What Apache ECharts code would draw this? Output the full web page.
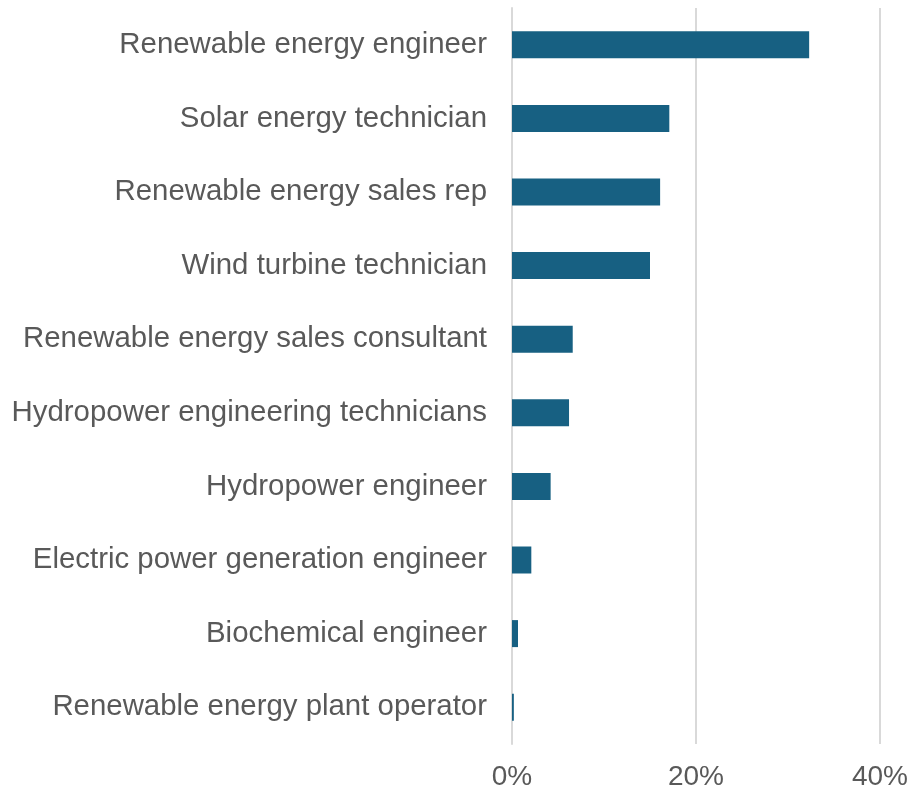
<!DOCTYPE html>
<html>
<head>
<meta charset="utf-8">
<script src="https://cdn.jsdelivr.net/npm/echarts@6/dist/echarts.min.js"></script>
<style>html,body{margin:0;padding:0;background:#fff}#c{width:912px;height:791px}</style>
</head>
<body>
<div id="c"></div>
<script>
const categories = [
  "Renewable energy engineer",
  "Solar energy technician",
  "Renewable energy sales rep",
  "Wind turbine technician",
  "Renewable energy sales consultant",
  "Hydropower engineering technicians",
  "Hydropower engineer",
  "Electric power generation engineer",
  "Biochemical engineer",
  "Renewable energy plant operator"
];
const shares = [32.3, 17.1, 16.1, 15.0, 6.6, 6.2, 4.2, 2.1, 0.65, 0.2];
const tickValues = [0, 20, 40];

const chart = echarts.init(document.getElementById('c'), null, {renderer: 'canvas'});
chart.setOption({
  animation: false,
  grid: {left: 512, right: 32, top: 8, bottom: 46, containLabel: false},
  xAxis: {
    type: 'value', min: 0, max: 40, interval: 20,
    axisLine: {show: false}, axisTick: {show: false},
    splitLine: {show: true, lineStyle: {color: '#d9d9d9', width: 2}},
    axisLabel: {
      formatter: v => tickValues.includes(v) ? v + '%' : '',
      fontFamily: 'Liberation Sans, Arial, sans-serif', fontSize: 28, color: '#595959', margin: 19
    }
  },
  yAxis: {
    type: 'category', data: categories, inverse: true,
    axisLine: {show: true, lineStyle: {color: '#d9d9d9', width: 2}},
    axisTick: {show: false},
    axisLabel: {fontFamily: 'Liberation Sans, Arial, sans-serif', fontSize: 29.4, color: '#595959', margin: 25}
  },
  series: [{
    type: 'bar', data: shares, barWidth: 27,
    itemStyle: {color: '#176082'}
  }]
});
</script>
</body>
</html>
